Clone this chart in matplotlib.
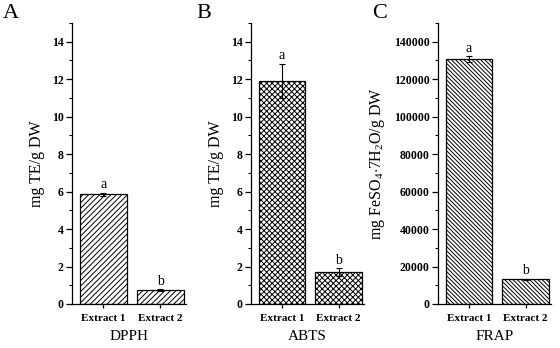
import numpy as np
import matplotlib
matplotlib.use('Agg')
import matplotlib.pyplot as plt
from matplotlib.ticker import MultipleLocator, FormatStrFormatter

plt.rcParams['font.family'] = ['Liberation Serif', 'DejaVu Serif']
plt.rcParams['mathtext.fontset'] = 'custom'
plt.rcParams['mathtext.rm'] = 'Liberation Serif'
plt.rcParams['mathtext.it'] = 'Liberation Serif:italic'
plt.rcParams['mathtext.bf'] = 'Liberation Serif:bold'
plt.rcParams['hatch.linewidth'] = 0.7

# Data
extracts = ['Extract 1', 'Extract 2']
dpph_mean = [5.87, 0.75]
dpph_err = [0.08, 0.03]
abts_mean = [11.9, 1.7]
abts_err = [0.93, 0.2]
frap_mean = [130700, 13200]
frap_err = [1500, 200]
letters = ['a', 'b']

panels = [
    ('A', 'DPPH', 'mg TE/g DW', dpph_mean, dpph_err, '//////', 15, 2, 1),
    ('B', 'ABTS', 'mg TE/g DW', abts_mean, abts_err, 'xxxxxx', 15, 2, 1),
    ('C', 'FRAP', r'mg FeSO$_4$$\cdot$7H$_2$O/g DW', frap_mean, frap_err, '\\' * 8, 150000, 20000, 10000),
]

# axes positions in pixels (left, right)
W, H = 560, 348
lefts = [72, 251, 438]
rights = [186, 364, 551]
bottom, top = 304, 23

fig = plt.figure(figsize=(5.6, 3.48), dpi=100)
x = np.array([1, 2])

for i, (tag, xlab, ylab, mean, err, hatch, ymax, major, minor) in enumerate(panels):
    ax = fig.add_axes([lefts[i] / W, 1 - bottom / H, (rights[i] - lefts[i]) / W, (bottom - top) / H])
    ax.bar(x, mean, width=0.82, color='white', edgecolor='black', hatch=hatch, linewidth=0.9)
    ax.errorbar(x, mean, yerr=err, fmt='none', ecolor='black', elinewidth=0.8, capsize=2, capthick=0.8)
    for xi, m, e, l in zip(x, mean, err, letters):
        ax.text(xi, m + e + ymax * 0.005, l, ha='center', va='bottom', fontsize=10)
    ax.set_xlim(0.45, 2.45)
    ax.set_ylim(0, ymax)
    ax.set_xticks(x)
    ax.set_xticklabels(extracts, fontsize=8, fontweight='bold')
    ax.yaxis.set_major_locator(MultipleLocator(major))
    ax.yaxis.set_minor_locator(MultipleLocator(minor))
    ax.yaxis.set_major_formatter(FormatStrFormatter('%d'))
    for lab in ax.get_yticklabels():
        lab.set_fontweight('bold')
        lab.set_fontsize(8.5)
    ax.tick_params(axis='y', which='major', length=4, width=0.9, pad=2)
    ax.tick_params(axis='y', which='minor', length=2, width=0.8)
    ax.tick_params(axis='x', length=3, width=0.9, pad=4)
    ax.spines['top'].set_visible(False)
    ax.spines['right'].set_visible(False)
    ax.spines['left'].set_linewidth(0.9)
    ax.spines['bottom'].set_linewidth(0.9)
    ax.set_xlabel(xlab, fontsize=11, labelpad=5)
    ax.set_ylabel(ylab, fontsize=11.5, labelpad=5)

fig.text(3 / W, 1 - 4 / H, 'A', fontsize=16, va='top', ha='left')
fig.text(196 / W, 1 - 4 / H, 'B', fontsize=16, va='top', ha='left')
fig.text(372 / W, 1 - 4 / H, 'C', fontsize=16, va='top', ha='left')

fig.savefig('out.png', dpi=100)
